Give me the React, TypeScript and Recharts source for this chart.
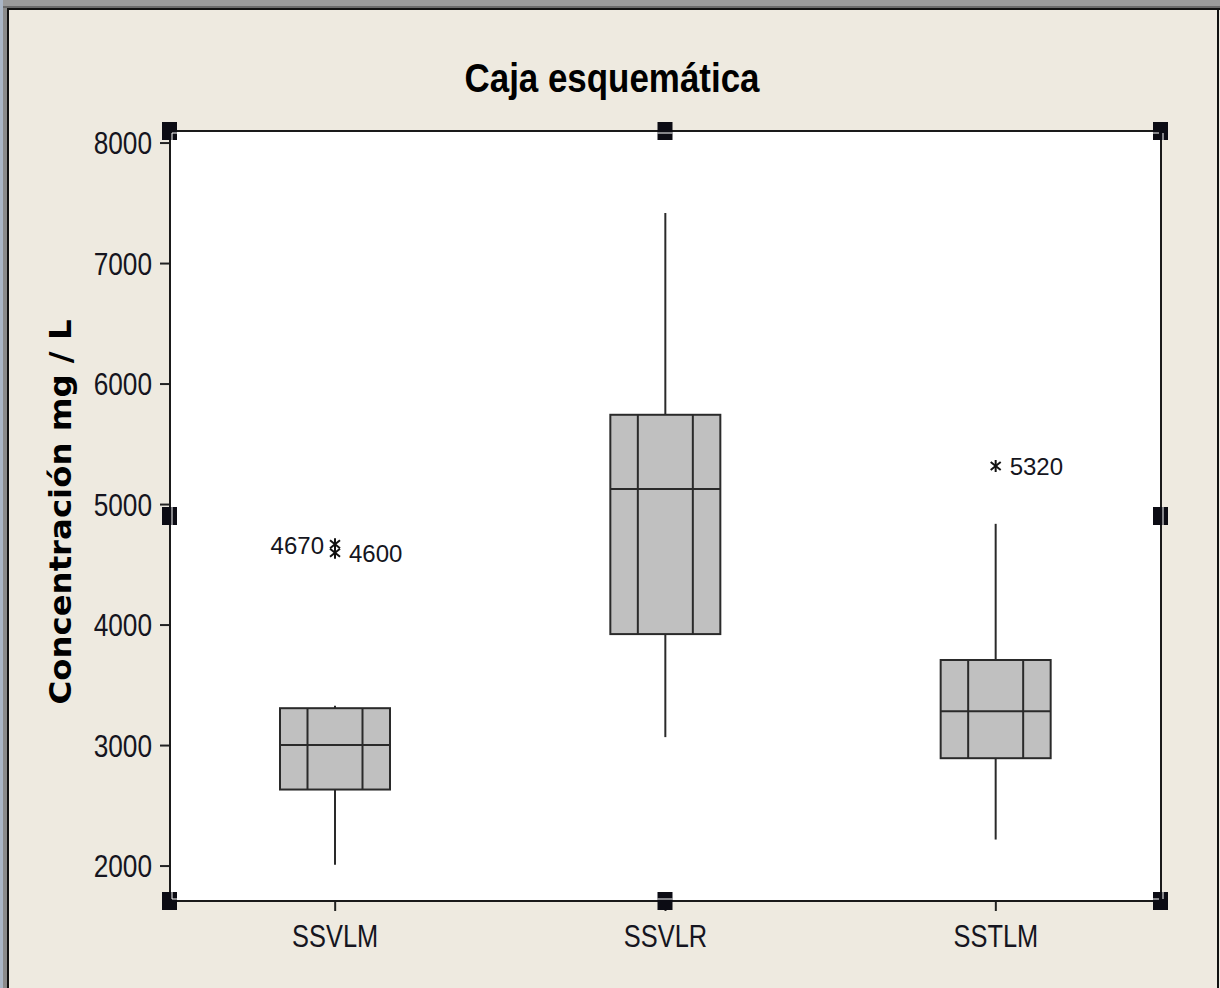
import React from 'react';
import { ComposedChart, Bar, XAxis, YAxis, Customized } from 'recharts';

// ---- data ----
const categories = ['SSVLM', 'SSVLR', 'SSTLM'];
const whiskerLow = [2010, 3070, 2220];
const q1 = [2635, 3925, 2895];
const median = [3005, 5130, 3285];
const q3 = [3310, 5745, 3710];
const whiskerHigh = [3330, 7420, 4840];
const outlierValues = [[4670, 4600], [], [5320]];
const yTicks = [2000, 3000, 4000, 5000, 6000, 7000, 8000];
const yDomain = [1710, 8100];
const titleText = 'Caja esquemática';
const yLabelText = 'Concentración mg / L';

const data = categories.map((name, i) => ({
  name,
  range: [whiskerLow[i], whiskerHigh[i]],
  whiskerLow: whiskerLow[i],
  q1: q1[i],
  median: median[i],
  q3: q3[i],
  whiskerHigh: whiskerHigh[i],
  outliers: outlierValues[i],
}));

// ---- layout ----
const W = 1220;
const H = 988;
const Y_AXIS_W = 110;
const X_AXIS_H = 60;
const MARGIN = { top: 131, right: 59, left: 60, bottom: 27 };
const PLOT_L = MARGIN.left + Y_AXIS_W;
const PLOT_R = W - MARGIN.right;
const PLOT_T = MARGIN.top;
const PLOT_B = H - MARGIN.bottom - X_AXIS_H;

const BG = '#EEEAE0';
const INK = '#151520';
const BOX_FILL = '#C0C0C0';
const BOX_STROKE = '#2a2a2a';

const Asterisk = ({ cx, cy }: { cx: number; cy: number }) => (
  <g stroke="#111" strokeWidth={2}>
    <line x1={cx} y1={cy - 6} x2={cx} y2={cy + 6} />
    <line x1={cx - 5} y1={cy - 4} x2={cx + 5} y2={cy + 4} />
    <line x1={cx - 5} y1={cy + 4} x2={cx + 5} y2={cy - 4} />
  </g>
);

const BoxShape = (props: any) => {
  const { x, y, width, height, payload } = props;
  const top = Math.min(y, y + height);
  const h = Math.abs(height);
  const hi = payload.whiskerHigh;
  const lo = payload.whiskerLow;
  const py = (v: number) => top + (h * (hi - v)) / (hi - lo);
  const cx = x + width / 2;
  const yQ1 = py(payload.q1);
  const yQ3 = py(payload.q3);
  const yMed = py(payload.median);
  const outs: number[] = payload.outliers || [];
  const sorted = [...outs].sort((a, b) => b - a);
  return (
    <g>
      <line x1={cx} y1={py(hi)} x2={cx} y2={yQ3} stroke={BOX_STROKE} strokeWidth={2} />
      <line x1={cx} y1={yQ1} x2={cx} y2={py(lo)} stroke={BOX_STROKE} strokeWidth={2} />
      <rect x={x} y={yQ3} width={width} height={yQ1 - yQ3} fill={BOX_FILL} stroke={BOX_STROKE} strokeWidth={2} />
      <line x1={x} y1={yMed} x2={x + width} y2={yMed} stroke={BOX_STROKE} strokeWidth={2} />
      <line x1={x + width / 4} y1={yQ3} x2={x + width / 4} y2={yQ1} stroke={BOX_STROKE} strokeWidth={2} />
      <line x1={x + (3 * width) / 4} y1={yQ3} x2={x + (3 * width) / 4} y2={yQ1} stroke={BOX_STROKE} strokeWidth={2} />
      {sorted.map((v, k) => {
        const oy = py(v);
        const leftSide = sorted.length > 1 && k === 0;
        return (
          <g key={k}>
            <Asterisk cx={cx} cy={oy} />
            <text
              x={leftSide ? cx - 11 : cx + 14}
              y={oy + (leftSide ? 10 : 9)}
              textAnchor={leftSide ? 'end' : 'start'}
              fontFamily="'Liberation Sans', Arial, sans-serif"
              fontSize={24}
              fill={INK}
            >
              {v}
            </text>
          </g>
        );
      })}
    </g>
  );
};

const YTick = (props: any) => {
  const { x, y, payload } = props;
  return (
    <text
      x={0}
      y={0}
      dy="0.355em"
      textAnchor="end"
      transform={`translate(${x},${y}) scale(0.82,1)`}
      fontFamily="'Liberation Sans', Arial, sans-serif"
      fontSize={32}
      fill={INK}
    >
      {payload.value}
    </text>
  );
};

const XTick = (props: any) => {
  const { x, y, payload } = props;
  return (
    <text
      x={0}
      y={0}
      dy="0.71em"
      textAnchor="middle"
      transform={`translate(${x},${y}) scale(0.82,1)`}
      fontFamily="'Liberation Sans', Arial, sans-serif"
      fontSize={31}
      fill={INK}
    >
      {payload.value}
    </text>
  );
};

// Background layer (drawn beneath the series)
const Background = () => (
  <g>
    <rect x={0} y={0} width={W} height={8} fill="#9a9a9a" />
    <rect x={0} y={6} width={W} height={2} fill="#6a6a6a" />
    <rect x={0} y={0} width={3} height={H} fill="#aab6c6" />
    <rect x={3} y={8} width={4} height={H} fill="#8a8a8a" />
    <rect x={7} y={8} width={W - 7} height={2} fill="#111" />
    <rect x={7} y={8} width={2} height={H} fill="#111" />
    <rect x={W - 3} y={8} width={2} height={H} fill="#111" />
    <rect x={PLOT_L} y={PLOT_T} width={PLOT_R - PLOT_L} height={PLOT_B - PLOT_T} fill="#ffffff" />
    <text
      x={612}
      y={92}
      textAnchor="middle"
      fontFamily="'Liberation Sans', Arial, sans-serif"
      fontWeight="bold"
      fontSize={40}
      textLength={295}
      lengthAdjust="spacingAndGlyphs"
      fill="#000"
    >
      {titleText}
    </text>
    <text
      x={0}
      y={0}
      dy="0.36em"
      textAnchor="middle"
      transform={`translate(60,512) rotate(-90)`}
      fontFamily="'DejaVu Sans', Verdana, sans-serif"
      fontWeight="bold"
      fontSize={30}
      textLength={385}
      lengthAdjust="spacingAndGlyphs"
      fill="#000"
    >
      {yLabelText}
    </text>
  </g>
);

// Overlay: plot frame and selection handles (on top)
const Overlay = () => {
  const midX = (PLOT_L + PLOT_R) / 2;
  const midY = (PLOT_T + PLOT_B) / 2;
  const pts = [
    [PLOT_L, PLOT_T], [midX, PLOT_T], [PLOT_R, PLOT_T],
    [PLOT_L, midY], [PLOT_R, midY],
    [PLOT_L, PLOT_B], [midX, PLOT_B], [PLOT_R, PLOT_B],
  ];
  return (
    <svg width={W} height={H} style={{ position: 'absolute', left: 0, top: 0, pointerEvents: 'none' }}>
      <rect x={PLOT_L} y={PLOT_T} width={PLOT_R - PLOT_L} height={PLOT_B - PLOT_T} fill="none" stroke="#1a1a1a" strokeWidth={2} />
      {pts.map(([px, py], i) => {
        const rx = px - 8;
        const ry = py - 9;
        const onLeft = px === PLOT_L;
        const onRight = px === PLOT_R;
        const onTop = py === PLOT_T;
        const onBottom = py === PLOT_B;
        const wl: JSX.Element[] = [];
        // white inner highlight lines following the frame
        if (onLeft || onRight) {
          const lx = onLeft ? px + 2 : px + 2;
          const y1 = onTop ? py + 2 : ry;
          const y2 = onBottom ? py - 2 : ry + 18;
          wl.push(<line key="v" x1={lx} y1={y1} x2={lx} y2={y2} stroke="#fff" strokeWidth={1} />);
        }
        if (onTop || onBottom) {
          const ly = onTop ? py + 2 : py - 2;
          const x1 = onLeft ? px + 2 : rx;
          const x2 = onRight ? px - 2 : rx + 15;
          wl.push(<line key="h" x1={x1} y1={ly} x2={x2} y2={ly} stroke="#fff" strokeWidth={1} />);
        }
        return (
          <g key={i}>
            <rect x={rx} y={ry} width={15} height={18} fill="#0c0c14" />
            {wl}
          </g>
        );
      })}
    </svg>
  );
};

export default function App() {
  return (
    <div style={{ position: 'absolute', left: 0, top: 0, width: W, height: H, background: BG }}>
      <ComposedChart width={W} height={H} data={data} margin={MARGIN}>
        <Customized component={<Background />} />
        <XAxis
          dataKey="name"
          type="category"
          height={X_AXIS_H}
          tickSize={10}
          tickMargin={14}
          tick={<XTick />}
          tickLine={{ stroke: '#222', strokeWidth: 2 }}
          axisLine={{ stroke: '#1a1a1a', strokeWidth: 2 }}
          interval={0}
        />
        <YAxis
          type="number"
          domain={yDomain}
          ticks={yTicks}
          allowDataOverflow
          width={Y_AXIS_W}
          tickSize={10}
          tickMargin={8}
          tick={<YTick />}
          tickLine={{ stroke: '#222', strokeWidth: 2 }}
          axisLine={{ stroke: '#1a1a1a', strokeWidth: 2 }}
          interval={0}
        />
        <Bar dataKey="range" barSize={110} shape={<BoxShape />} isAnimationActive={false} />
      </ComposedChart>
      <Overlay />
    </div>
  );
}
